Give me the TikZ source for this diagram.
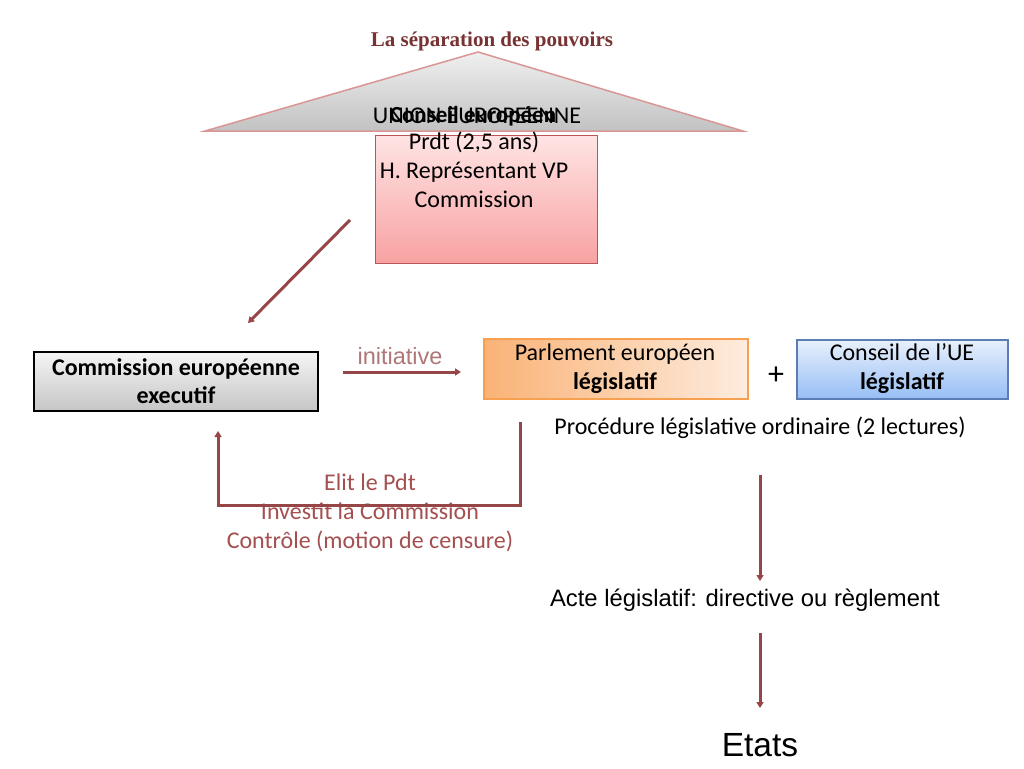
\documentclass[tikz,border=0pt]{standalone}
\usepackage{fontspec}
\setmainfont{Carlito}
\newfontfamily\arialf{Liberation Sans}
\newfontfamily\tnrf{Liberation Serif}
\usetikzlibrary{arrows.meta}
\definecolor{arr}{RGB}{150,70,70}
\definecolor{titlec}{RGB}{120,50,50}
\definecolor{labc}{RGB}{165,80,80}
\definecolor{initc}{RGB}{175,120,120}
\definecolor{tribord}{RGB}{217,150,148}
\definecolor{pinkbord}{RGB}{185,85,85}
\definecolor{orbord}{RGB}{247,160,80}
\definecolor{orleft}{RGB}{250,178,118}
\definecolor{orright}{RGB}{253,236,222}
\definecolor{blbord}{RGB}{90,125,180}
\definecolor{bltop}{RGB}{232,240,252}
\definecolor{blbot}{RGB}{150,190,245}
\definecolor{pktop}{RGB}{255,228,228}
\definecolor{pkbot}{RGB}{248,162,162}
\tikzset{
  arrowline/.style={draw=arr, line width=3pt, -{Triangle[length=6pt,width=7pt]}},
  txt/.style={font=\fontsize{24}{29}\selectfont, align=center, inner sep=0pt},
  boxtxt/.style={font=\fontsize{24}{28.5}\selectfont, align=center, inner sep=0pt},
}
\begin{document}
\begin{tikzpicture}[x=1pt,y=-1pt]
\useasboundingbox[fill=white] (0,0) rectangle (1024,768);

% title
\node[font=\tnrf\bfseries\fontsize{21}{24}\selectfont, text=titlec, inner sep=0pt] (title) at (492,41) {La séparation des pouvoirs};

% roof triangle
\path[draw=tribord, line width=1.5pt, top color=gray!12, bottom color=gray!48] (478,52) -- (743,131) -- (205,131) -- cycle;
\node[font=\fontsize{24}{28}\selectfont, inner sep=0pt] (ue) at (477,116) {UNION EUROPEENNE};
\node[font=\bfseries\fontsize{23}{28}\selectfont, inner sep=0pt] (ce) at (473,116) {Conseil européen};

% pink box
\node[draw=pinkbord, line width=1pt, top color=pktop, bottom color=pkbot, minimum width=222pt, minimum height=128pt, inner sep=0pt] (pink) at (486,199) {};
\node[txt] (pinktxt) at (474,170) {Prdt (2,5 ans)\\H. Représentant VP\\Commission};

% commission
\node[draw=black, line width=1.5pt, top color=gray!8, bottom color=gray!45, minimum width=284pt, minimum height=59pt, inner sep=0pt] (com) at (176,381.5) {};
\node[boxtxt, font=\bfseries\fontsize{24}{28.5}\selectfont] (comtxt) at (176,381) {Commission européenne\\executif};

% parlement
\node[draw=orbord, line width=1.2pt, left color=orleft, right color=orright, minimum width=264pt, minimum height=60pt, inner sep=0pt] (par) at (616,369) {};
\node[boxtxt] (partxt) at (615,368.5) {Parlement européen\\\textbf{législatif}};

\node[font=\fontsize{32}{34}\selectfont, inner sep=0pt] (plus) at (776,376) {+};

% conseil UE
\node[draw=blbord, line width=1.2pt, top color=bltop, bottom color=blbot, minimum width=211pt, minimum height=59pt, inner sep=0pt] (cue) at (902.5,369.5) {};
\node[boxtxt] (cuetxt) at (902,368.5) {Conseil de l’UE\\\textbf{législatif}};

\node[txt] (proc) at (760,428) {Procédure législative ordinaire (2 lectures)};

% labels
\node[font=\arialf\fontsize{23.5}{26}\selectfont, text=initc, inner sep=0pt] (init) at (400,356) {initiative};
\node[txt, text=labc] (ctrl) at (370,513) {Elit le Pdt\\Investit la Commission\\Contrôle (motion de censure)};

\node[font=\arialf\fontsize{23.8}{26}\selectfont, inner sep=0pt] (acte) at (745,600) {Acte législatif: directive ou règlement};
\node[font=\arialf\fontsize{33.5}{36}\selectfont, inner sep=0pt] (etats) at (760,745) {Etats};

% connectors
\coordinate (d1) at (350,220);
\coordinate (d2) at (248,323);
\draw[arrowline] (d1) -- (d2);

\coordinate (i1) at (343,372);
\coordinate (i2) at (461,372);
\draw[arrowline] (i1) -- (i2);

\coordinate (f1) at (520,422);
\coordinate (f2) at (520,505);
\coordinate (f3) at (218,505);
\coordinate (f4) at (218,431);
\draw[arrowline] (f1) -- (f2) -- (f3) -- (f4);

\coordinate (p1) at (760,475);
\coordinate (p2) at (760,581);
\draw[arrowline] (p1) -- (p2);

\coordinate (a1) at (760,633);
\coordinate (a2) at (760,708);
\draw[arrowline] (a1) -- (a2);
\end{tikzpicture}
\end{document}
